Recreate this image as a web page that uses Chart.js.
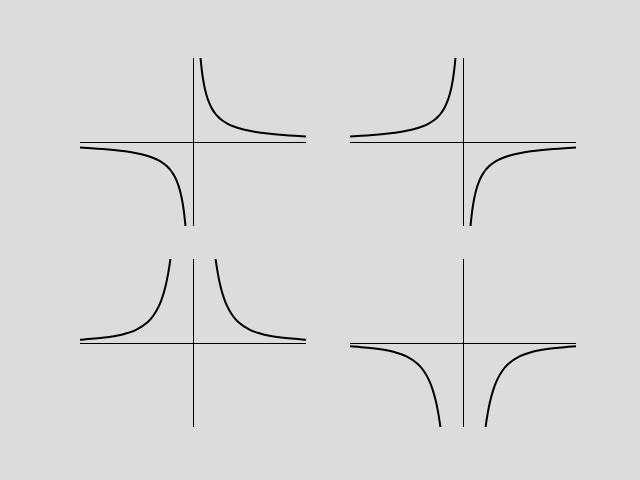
<!DOCTYPE html>
<html><head><meta charset="utf-8">
<script src="https://cdn.jsdelivr.net/npm/chart.js@4/dist/chart.umd.min.js"></script>
<style>
html,body{margin:0;padding:0;background:#dcdcdc;width:640px;height:480px;overflow:hidden}
canvas{position:absolute}
</style></head><body>
<canvas id="c1" width="226" height="168" style="left:80px;top:58px"></canvas>
<canvas id="c2" width="226" height="168" style="left:350px;top:58px"></canvas>
<canvas id="c3" width="226" height="168" style="left:80px;top:259px"></canvas>
<canvas id="c4" width="226" height="168" style="left:350px;top:259px"></canvas>
<script>
// x samples (null gap at x = 0)
const xValues = [-5, -4.5, -4, -3.5, -3, -2.5, -2, -1.75, -1.5, -1.35, -1.2, -1.1, -1, -0.9, -0.8, -0.7, -0.65, -0.6, -0.55, -0.5, -0.45, -0.4, -0.36, -0.33, -0.3,
  0,
  0.3, 0.33, 0.36, 0.4, 0.45, 0.5, 0.55, 0.6, 0.65, 0.7, 0.8, 0.9, 1, 1.1, 1.2, 1.35, 1.5, 1.75, 2, 2.5, 3, 3.5, 4, 4.5, 5];

// top-left: y = 1/x
const yTopLeft = [-0.2, -0.222, -0.25, -0.286, -0.333, -0.4, -0.5, -0.571, -0.667, -0.741, -0.833, -0.909, -1.0, -1.111, -1.25, -1.429, -1.538, -1.667, -1.818, -2.0, -2.222, -2.5, -2.778, -3.030, -3.333,
  null,
  3.333, 3.030, 2.778, 2.5, 2.222, 2.0, 1.818, 1.667, 1.538, 1.429, 1.25, 1.111, 1.0, 0.909, 0.833, 0.741, 0.667, 0.571, 0.5, 0.4, 0.333, 0.286, 0.25, 0.222, 0.2];

// top-right: y = -1/x
const yTopRight = [0.2, 0.222, 0.25, 0.286, 0.333, 0.4, 0.5, 0.571, 0.667, 0.741, 0.833, 0.909, 1.0, 1.111, 1.25, 1.429, 1.538, 1.667, 1.818, 2.0, 2.222, 2.5, 2.778, 3.030, 3.333,
  null,
  -3.333, -3.030, -2.778, -2.5, -2.222, -2.0, -1.818, -1.667, -1.538, -1.429, -1.25, -1.111, -1.0, -0.909, -0.833, -0.741, -0.667, -0.571, -0.5, -0.4, -0.333, -0.286, -0.25, -0.222, -0.2];

// bottom-left: y = 1/x^2
const yBottomLeft = [0.04, 0.0494, 0.0625, 0.0816, 0.111, 0.16, 0.25, 0.327, 0.444, 0.549, 0.694, 0.826, 1.0, 1.235, 1.5625, 2.04, 2.37, 2.78, 3.31, 4.0, 4.94, 6.25, 7.72, 9.18, 11.11,
  null,
  11.11, 9.18, 7.72, 6.25, 4.94, 4.0, 3.31, 2.78, 2.37, 2.04, 1.5625, 1.235, 1.0, 0.826, 0.694, 0.549, 0.444, 0.327, 0.25, 0.16, 0.111, 0.0816, 0.0625, 0.0494, 0.04];

// bottom-right: y = -1/x^2
const yBottomRight = [-0.04, -0.0494, -0.0625, -0.0816, -0.111, -0.16, -0.25, -0.327, -0.444, -0.549, -0.694, -0.826, -1.0, -1.235, -1.5625, -2.04, -2.37, -2.78, -3.31, -4.0, -4.94, -6.25, -7.72, -9.18, -11.11,
  null,
  -11.11, -9.18, -7.72, -6.25, -4.94, -4.0, -3.31, -2.78, -2.37, -2.04, -1.5625, -1.235, -1.0, -0.826, -0.694, -0.549, -0.444, -0.327, -0.25, -0.16, -0.111, -0.0816, -0.0625, -0.0494, -0.04];

const xLimit = 5;
const yLimitRecip = 3;
const yLimitSquare = 1;

const centerAxes = {
  id: 'centerAxes',
  afterDatasetsDraw(chart) {
    const {ctx, chartArea: a, scales: {x, y}} = chart;
    const px = Math.round(x.getPixelForValue(0)) + 0.5;
    const py = Math.round(y.getPixelForValue(0)) + 0.5;
    ctx.save();
    ctx.strokeStyle = '#000';
    ctx.lineWidth = 1;
    ctx.beginPath();
    ctx.moveTo(px, a.top); ctx.lineTo(px, a.bottom);
    ctx.moveTo(a.left, py); ctx.lineTo(a.right, py);
    ctx.stroke();
    ctx.restore();
  }
};

function makeChart(id, ys, yLim) {
  new Chart(document.getElementById(id), {
    type: 'scatter',
    data: {
      datasets: [{
        data: xValues.map((x, i) => ({x: x, y: ys[i]})),
        showLine: true,
        spanGaps: false,
        borderColor: '#000',
        borderWidth: 2,
        pointRadius: 0,
        cubicInterpolationMode: 'monotone',
        fill: false
      }]
    },
    options: {
      responsive: false,
      animation: false,
      layout: {padding: 0},
      plugins: {legend: {display: false}, tooltip: {enabled: false}},
      scales: {
        x: {type: 'linear', display: false, min: -xLimit, max: xLimit},
        y: {type: 'linear', display: false, min: -yLim, max: yLim}
      }
    },
    plugins: [centerAxes]
  });
}

makeChart('c1', yTopLeft, yLimitRecip);
makeChart('c2', yTopRight, yLimitRecip);
makeChart('c3', yBottomLeft, yLimitSquare);
makeChart('c4', yBottomRight, yLimitSquare);
</script>
</body></html>
